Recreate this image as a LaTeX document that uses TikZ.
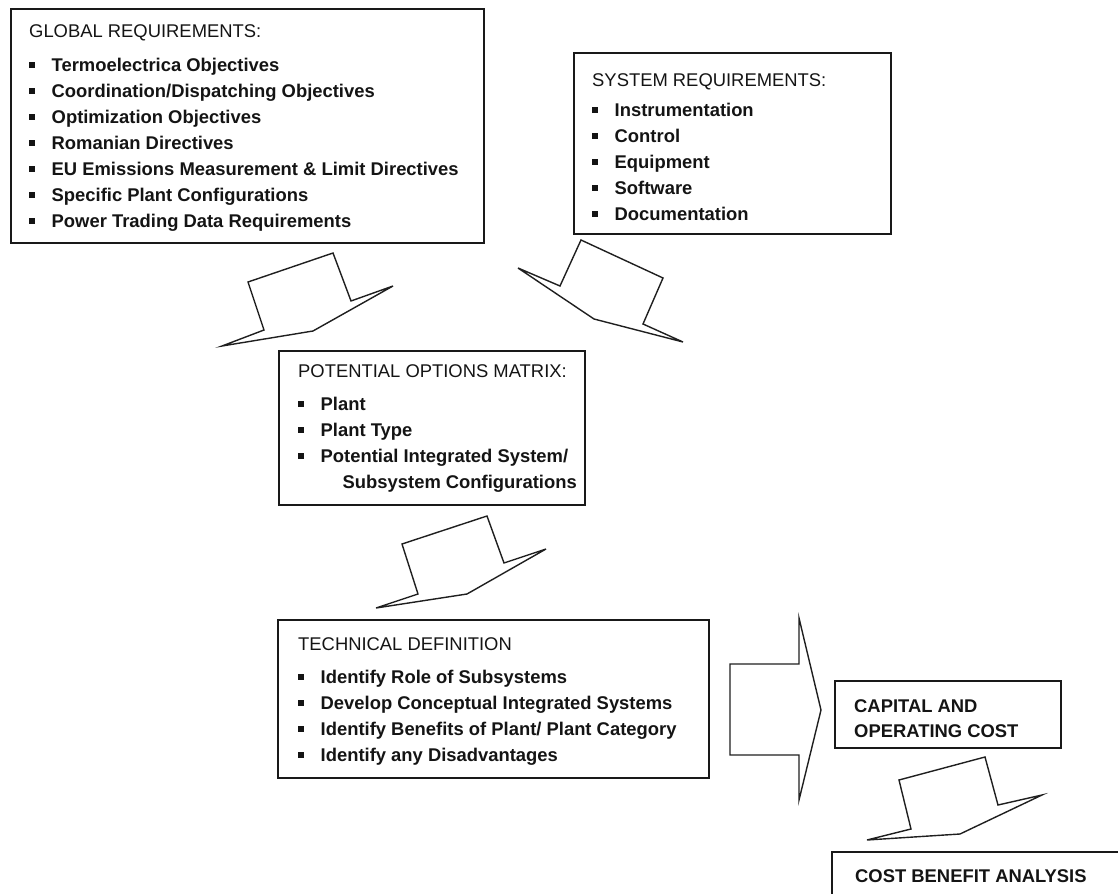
\documentclass[tikz,border=0pt]{standalone}
\usepackage{fontspec}
\setmainfont{Liberation Sans}
\usetikzlibrary{positioning}

\tikzset{
  box/.style={draw=black!90, line width=1.7bp, anchor=north west, inner sep=0pt},
  txt/.style={anchor=base west, inner sep=0pt, text=black!92,
    font=\fontsize{18.4bp}{26bp}\selectfont},
  blockarrow/.style={draw=black!88, line width=1.4bp, line join=miter},
}
\newcommand{\sq}{\rule[3.5bp]{5.5bp}{5.5bp}}
\newcommand{\bitem}[1]{\sq & \textbf{#1}\\}

\begin{document}
\begin{tikzpicture}[x=1bp, y=-1bp]
  \useasboundingbox (0,0) rectangle (1118,894);

  % frames
  \node[box, minimum width=473bp, minimum height=234bp] (globbox) at (10,8) {};
  \node[box, minimum width=317bp, minimum height=181bp] (sysbox) at (573,52) {};
  \node[box, minimum width=306bp, minimum height=154bp] (optbox) at (278,350) {};
  \node[box, minimum width=431bp, minimum height=158bp] (techbox) at (277,619) {};
  \node[box, minimum width=226bp, minimum height=67bp] (costbox) at (834,680) {};
  \draw[draw=black!90, line width=1.7bp] (1120,852) -- (832,852) -- (832,896);

  % texts
  \node[txt] (glob) at (29,37) {\begin{tabular}[t]{@{}l@{\hspace{17bp}}l@{}}
    \multicolumn{2}{@{}l@{}}{GLOBAL REQUIREMENTS:}\\[8bp]
    \bitem{Termoelectrica Objectives}
    \bitem{Coordination/Dispatching Objectives}
    \bitem{Optimization Objectives}
    \bitem{Romanian Directives}
    \bitem{EU Emissions Measurement \& Limit Directives}
    \bitem{Specific Plant Configurations}
    \sq & \textbf{Power Trading Data Requirements}
  \end{tabular}};
  \node[txt] (sysreq) at (592,86) {\begin{tabular}[t]{@{}l@{\hspace{17bp}}l@{}}
    \multicolumn{2}{@{}l@{}}{SYSTEM REQUIREMENTS:}\\[4bp]
    \bitem{Instrumentation}
    \bitem{Control}
    \bitem{Equipment}
    \bitem{Software}
    \sq & \textbf{Documentation}
  \end{tabular}};
  \node[txt] (optm) at (298,377) {\begin{tabular}[t]{@{}l@{\hspace{17bp}}l@{}}
    \multicolumn{2}{@{}l@{}}{POTENTIAL OPTIONS MATRIX:}\\[7bp]
    \bitem{Plant}
    \bitem{Plant Type}
    \bitem{Potential Integrated System/}
    & \hspace{22bp}\textbf{Subsystem Configurations}
  \end{tabular}};
  \node[txt] (techdef) at (298,650) {\begin{tabular}[t]{@{}l@{\hspace{17bp}}l@{}}
    \multicolumn{2}{@{}l@{}}{TECHNICAL DEFINITION}\\[7bp]
    \bitem{Identify Role of Subsystems}
    \bitem{Develop Conceptual Integrated Systems}
    \bitem{Identify Benefits of Plant/ Plant Category}
    \sq & \textbf{Identify any Disadvantages}
  \end{tabular}};
  \node[txt] (capcost) at (854,712) {\begin{tabular}[t]{@{}l@{}}
    \textbf{CAPITAL AND}\\[-1bp]
    \textbf{OPERATING COST}
  \end{tabular}};
  \node[txt] (cba) at (855,882) {\textbf{COST BENEFIT ANALYSIS}};

  % block arrows
  \draw[blockarrow] (248,282) -- (333,253) -- (351,301) -- (393,286)
    -- (313,331) -- (222,346) -- (264,330) -- cycle;
  \draw[blockarrow] (581,240) -- (663,278) -- (643,324) -- (683,342)
    -- (594,319) -- (518,268) -- (560,286) -- cycle;
  \draw[blockarrow] (402,544) -- (487,516) -- (504,563) -- (546,549)
    -- (467,594) -- (376,608) -- (418,594) -- cycle;
  \draw[blockarrow] (730,664) -- (799,664) -- (799,618) -- (821,710)
    -- (799,800) -- (799,755) -- (730,755) -- cycle;
  \draw[blockarrow] (899,780) -- (985,757) -- (998,805) -- (1042,795)
    -- (960,834) -- (867,840) -- (911,829) -- cycle;
\end{tikzpicture}
\end{document}
